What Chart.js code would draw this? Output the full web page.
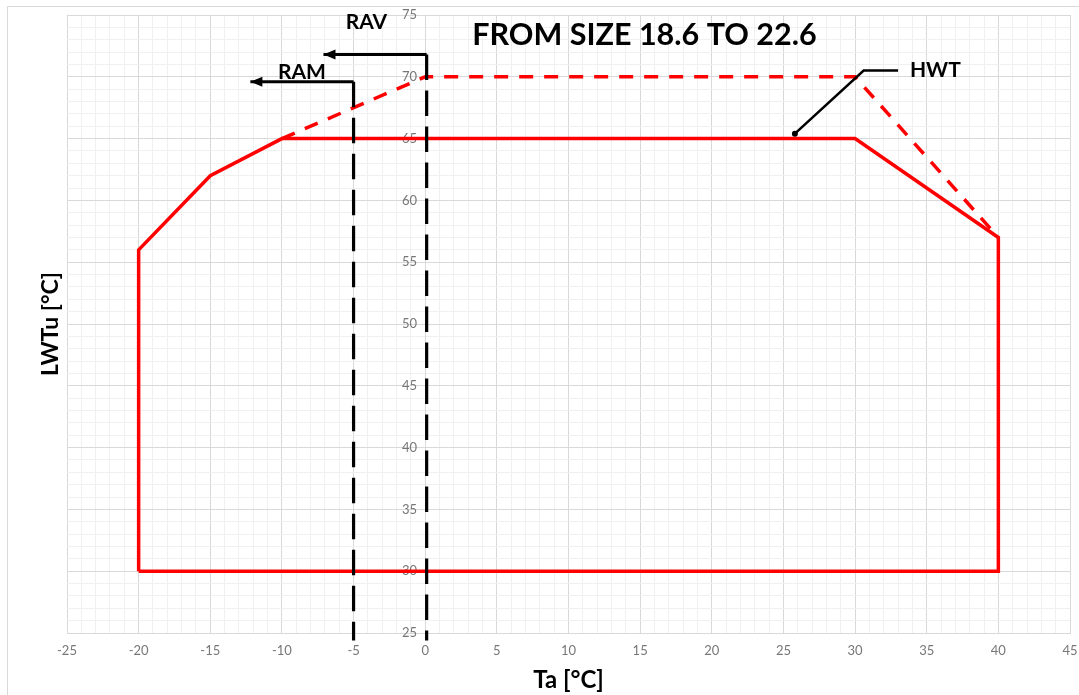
<!DOCTYPE html>
<html>
<head>
<meta charset="utf-8">
<script src="https://cdn.jsdelivr.net/npm/chart.js@4.4.1/dist/chart.umd.min.js"></script>
<style>
  html, body { margin: 0; padding: 0; background: #fff; }
  canvas { display: block; }
</style>
</head>
<body>
<canvas id="envelope" width="1079" height="695"></canvas>
<script>
// Axis ranges
const taRange  = [-25, 45];
const lwtRange = [25, 75];

// Operating envelope (solid red)
const envelopeTa  = [-20, -20, -15, -10, 30, 40, 40, -20];
const envelopeLwt = [30, 56, 62, 65, 65, 57, 30, 30];

// HWT extension (dashed red)
const hwtTa  = [-10, 0, 30, 40];
const hwtLwt = [65, 70, 70, 57];

// RAV / RAM limits (dashed black verticals + arrows)
const ravLimitTa  = [0.1, 0.1];
const ravLimitLwt = [71.8, 24.4];
const ravArrowTa  = [0.1, -7.1];
const ravArrowLwt = [71.8, 71.8];
const ramLimitTa  = [-5, -5];
const ramLimitLwt = [69.6, 24.4];
const ramArrowTa  = [-5, -12.2];
const ramArrowLwt = [69.6, 69.6];

// HWT leader line
const leaderTa  = [25.8, 30.6, 33.0];
const leaderLwt = [65.4, 70.5, 70.5];

const COLORS = {
  red:       "#ff0000",
  black:     "#000000",
  gridMajor: "#d9d9d9",
  gridMinor: "#f0f0f0",
  tick:      "#777777",
  frame:     "#d9d9d9",
};

const FONT = "Lato, 'Open Sans', sans-serif";

const pts = (xs, ys) => xs.map((x, i) => ({ x, y: ys[i] }));

const labels = [
  { text: "FROM SIZE 18.6 TO 22.6", x: 15.3, y: 73.4, size: 30.5 },
  { text: "RAV", x: -4.1, y: 74.4, size: 21 },
  { text: "RAM", x: -8.6, y: 70.4, size: 21 },
  { text: "HWT", x: 35.6, y: 70.55, size: 21 },
];

function lineSet(data, color, width, dash, extra) {
  return Object.assign({
    data,
    showLine: true,
    borderColor: color,
    backgroundColor: color,
    borderWidth: width,
    borderDash: dash || [],
    pointRadius: 0,
    tension: 0,
    fill: false,
  }, extra || {});
}

// Frame, arrowheads, annotation text and axis titles
const decorPlugin = {
  id: "decor",
  beforeDraw(chart) {
    const c = chart.ctx;
    c.save();
    c.strokeStyle = COLORS.frame;
    c.lineWidth = 1;
    c.beginPath();
    c.moveTo(7.5, chart.height);
    c.lineTo(7.5, 6.5);
    c.lineTo(chart.width, 6.5);
    c.stroke();
    c.restore();
  },
  afterDatasetsDraw(chart) {
    const c = chart.ctx;
    const xs = chart.scales.x, ys = chart.scales.y;
    c.save();
    // arrowheads at the last point of arrow datasets
    chart.data.datasets.forEach((ds) => {
      if (!ds.arrowEnd) return;
      const n = ds.data.length;
      const a = ds.data[n - 2], b = ds.data[n - 1];
      const ax = xs.getPixelForValue(a.x), ay = ys.getPixelForValue(a.y);
      const bx = xs.getPixelForValue(b.x), by = ys.getPixelForValue(b.y);
      const ang = Math.atan2(by - ay, bx - ax);
      const len = 12, half = 5;
      c.fillStyle = ds.borderColor;
      c.beginPath();
      c.moveTo(bx, by);
      c.lineTo(bx - len * Math.cos(ang) - half * Math.sin(ang), by - len * Math.sin(ang) + half * Math.cos(ang));
      c.lineTo(bx - len * Math.cos(ang) + half * Math.sin(ang), by - len * Math.sin(ang) - half * Math.cos(ang));
      c.closePath();
      c.fill();
    });

    c.fillStyle = COLORS.black;
    c.textAlign = "center";
    c.textBaseline = "middle";
    labels.forEach((l) => {
      c.font = `bold ${l.size}px ${FONT}`;
      c.fillText(l.text, xs.getPixelForValue(l.x), ys.getPixelForValue(l.y));
    });

    const area = chart.chartArea;
    c.font = `bold 24px ${FONT}`;
    c.fillText("Ta [°C]", (area.left + area.right) / 2, area.bottom + 47);
    c.font = `bold 23px ${FONT}`;
    c.translate(51, (area.top + area.bottom) / 2);
    c.rotate(-Math.PI / 2);
    c.fillText("LWTu [°C]", 0, 0);
    c.restore();
  },
};

const gridColor = (ctx) =>
  ctx.tick && ctx.tick.value % 5 === 0 ? COLORS.gridMajor : COLORS.gridMinor;
const majorLabel = (v) => (v % 5 === 0 ? v : "");
// y labels sit right-aligned on the x=0 axis; trailing space keeps a gap
const majorLabelY = (v) => (v % 5 === 0 ? v + "\u2002\u2009" : "");

new Chart(document.getElementById("envelope"), {
  type: "scatter",
  data: {
    datasets: [
      lineSet(pts(ravLimitTa, ravLimitLwt), COLORS.black, 3.2, [25.5, 10.5], { clip: false }),
      lineSet(pts(ramLimitTa, ramLimitLwt), COLORS.black, 3.2, [25.5, 10.5], { clip: false }),
      lineSet(pts(ravArrowTa, ravArrowLwt), COLORS.black, 3, null, { arrowEnd: true }),
      lineSet(pts(ramArrowTa, ramArrowLwt), COLORS.black, 3, null, { arrowEnd: true }),
      lineSet(pts(leaderTa, leaderLwt), COLORS.black, 2.5, null, {
        pointRadius: [3, 0, 0],
        pointBorderWidth: 0,
      }),
      lineSet(pts(hwtTa, hwtLwt), COLORS.red, 3.5, [14, 11]),
      lineSet(pts(envelopeTa, envelopeLwt), COLORS.red, 3.5, null, { borderJoinStyle: "miter" }),
    ],
  },
  options: {
    responsive: false,
    animation: false,
    layout: { padding: { left: 67, right: 9, top: 15, bottom: 0 } },
    plugins: {
      legend: { display: false },
      tooltip: { enabled: false },
    },
    scales: {
      x: {
        type: "linear",
        min: taRange[0],
        max: taRange[1],
        afterFit: (scale) => {
          scale.height = 62;
          scale.paddingLeft = 0;
          scale.paddingRight = 0;
        },
        border: { color: COLORS.gridMajor },
        grid: { color: gridColor, drawTicks: false },
        ticks: {
          stepSize: 1,
          autoSkip: false,
          maxRotation: 0,
          padding: 10,
          color: COLORS.tick,
          font: { family: FONT, size: 13 },
          callback: majorLabel,
        },
      },
      y: {
        type: "linear",
        position: { x: 0 },
        min: lwtRange[0],
        max: lwtRange[1],
        afterFit: (scale) => {
          scale.paddingTop = 0;
          scale.paddingBottom = 0;
        },
        border: { color: COLORS.gridMajor },
        grid: { color: gridColor, drawTicks: false },
        ticks: {
          stepSize: 1,
          autoSkip: false,
          padding: 18,
          color: COLORS.tick,
          font: { family: FONT, size: 13 },
          callback: majorLabelY,
        },
      },
    },
  },
  plugins: [decorPlugin],
});
</script>
</body>
</html>
